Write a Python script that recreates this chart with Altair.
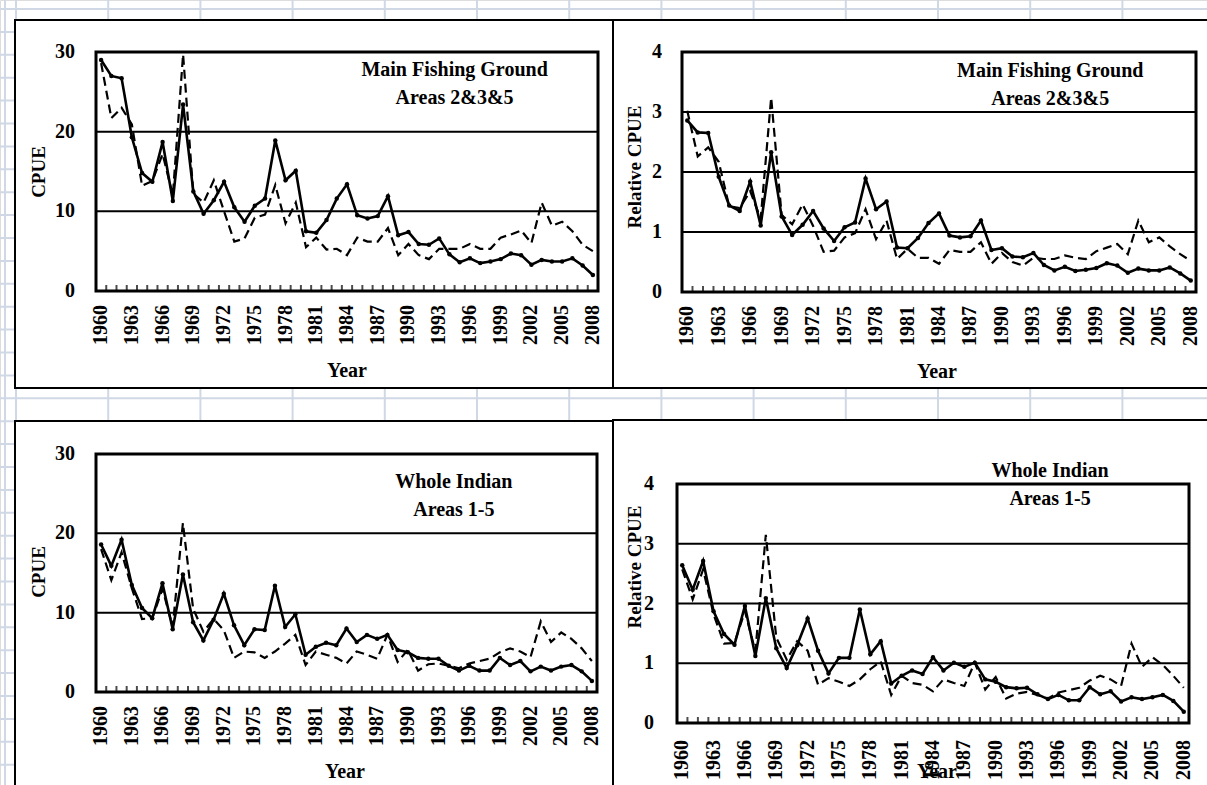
import altair as alt
import pandas as pd

# ---------------- data ----------------
years = list(range(1960, 2009))
year_labels = list(range(1960, 2009, 3))

main_cpue_solid = [29.0, 27.0, 26.7, 19.3, 14.8, 13.7, 18.7, 11.3, 23.4, 12.5,
                   9.7, 11.4, 13.7, 10.5, 8.7, 10.7, 11.6, 18.9, 13.9, 15.1,
                   7.5, 7.3, 8.9, 11.6, 13.4, 9.5, 9.1, 9.4, 11.9, 7.0,
                   7.4, 5.9, 5.8, 6.6, 4.6, 3.6, 4.1, 3.5, 3.7, 4.0,
                   4.7, 4.5, 3.3, 3.9, 3.7, 3.7, 4.1, 3.2, 2.0]
main_cpue_dashed = [28.6, 21.7, 23.0, 20.9, 13.2, 13.8, 17.2, 12.0, 29.7, 12.2,
                    11.1, 13.9, 10.0, 6.2, 6.6, 9.2, 9.6, 13.3, 8.5, 11.1,
                    5.5, 6.7, 5.2, 5.3, 4.5, 6.7, 6.2, 6.2, 7.9, 4.5,
                    5.9, 4.5, 4.0, 5.3, 5.3, 5.3, 5.9, 5.3, 5.3, 6.7,
                    7.1, 7.6, 6.0, 11.1, 8.2, 8.7, 7.5, 5.8, 5.0]
main_rel_solid = [2.86, 2.66, 2.65, 1.92, 1.44, 1.35, 1.84, 1.11, 2.33, 1.26,
                  0.95, 1.12, 1.35, 1.06, 0.85, 1.08, 1.16, 1.89, 1.38, 1.51,
                  0.74, 0.73, 0.90, 1.15, 1.31, 0.94, 0.91, 0.93, 1.19, 0.70,
                  0.73, 0.59, 0.58, 0.65, 0.45, 0.36, 0.42, 0.35, 0.37, 0.40,
                  0.48, 0.44, 0.32, 0.39, 0.36, 0.36, 0.41, 0.31, 0.19]
main_rel_dashed = [3.02, 2.26, 2.41, 2.17, 1.43, 1.40, 1.68, 1.22, 3.24, 1.28,
                   1.13, 1.46, 1.10, 0.67, 0.69, 0.91, 0.98, 1.38, 0.88, 1.19,
                   0.55, 0.72, 0.57, 0.57, 0.47, 0.70, 0.67, 0.67, 0.83, 0.47,
                   0.65, 0.50, 0.44, 0.57, 0.55, 0.55, 0.61, 0.57, 0.55, 0.68,
                   0.74, 0.80, 0.63, 1.19, 0.83, 0.91, 0.76, 0.63, 0.52]
whole_cpue_solid = [18.6, 15.9, 19.2, 13.5, 10.6, 9.3, 13.7, 7.9, 14.8, 8.8,
                    6.5, 9.1, 12.4, 8.4, 5.9, 7.9, 7.8, 13.4, 8.2, 9.8,
                    4.7, 5.7, 6.2, 5.9, 8.0, 6.3, 7.2, 6.7, 7.2, 5.3,
                    5.0, 4.3, 4.2, 4.2, 3.3, 2.7, 3.3, 2.7, 2.7, 4.3,
                    3.4, 3.9, 2.6, 3.2, 2.7, 3.2, 3.4, 2.6, 1.4]
whole_cpue_dashed = [18.0, 14.1, 17.6, 13.1, 9.2, 9.3, 13.0, 8.2, 21.3, 10.5,
                     7.6, 9.2, 7.8, 4.3, 5.1, 5.0, 4.3, 5.1, 6.1, 7.2,
                     3.4, 5.1, 4.7, 4.3, 3.6, 5.1, 4.7, 4.2, 7.2, 3.8,
                     5.3, 2.7, 3.5, 3.6, 3.3, 3.0, 3.6, 3.9, 4.2, 5.0,
                     5.5, 5.1, 4.4, 8.9, 6.3, 7.5, 6.7, 5.5, 3.9]
whole_rel_solid = [2.64, 2.23, 2.71, 1.87, 1.49, 1.31, 1.96, 1.12, 2.09, 1.25,
                   0.92, 1.30, 1.75, 1.21, 0.83, 1.09, 1.09, 1.90, 1.15, 1.37,
                   0.66, 0.79, 0.88, 0.82, 1.10, 0.88, 1.01, 0.94, 1.01, 0.73,
                   0.69, 0.60, 0.58, 0.59, 0.48, 0.40, 0.47, 0.38, 0.38, 0.60,
                   0.48, 0.53, 0.36, 0.43, 0.40, 0.43, 0.47, 0.37, 0.19]
whole_rel_dashed = [2.57, 2.07, 2.57, 1.82, 1.33, 1.34, 1.87, 1.20, 3.15, 1.43,
                    1.06, 1.37, 1.21, 0.64, 0.75, 0.69, 0.62, 0.73, 0.90, 1.03,
                    0.47, 0.79, 0.67, 0.64, 0.53, 0.73, 0.67, 0.62, 1.01, 0.56,
                    0.77, 0.41, 0.49, 0.52, 0.47, 0.41, 0.51, 0.55, 0.59, 0.71,
                    0.79, 0.73, 0.62, 1.33, 0.94, 1.10, 0.97, 0.79, 0.59]

main_note = ["Main Fishing Ground", "Areas 2&3&5"]
whole_note = ["Whole Indian", "Areas 1-5"]

# ---------------- layout / style ----------------
FONT = "Liberation Serif"
W, H = 1207, 785
GRID_COLOR = "#D0D8E6"
X_LO, X_HI = 1959.5, 2008.5


def panel(solid, dashed, ymax, ystep, xr, yr, ytitle, ytitle_xy, ylab_pad,
          xlab_pad, xtitle_xy, note, note_x, note_ys):
    df = pd.DataFrame({"year": years, "solid": solid, "dashed": dashed})
    xs = alt.Scale(domain=[X_LO, X_HI], range=xr, nice=False, zero=False)
    ys = alt.Scale(domain=[0, ymax], range=yr, nice=False, zero=False)
    gx = lambda f: alt.X(f, scale=xs, axis=None)
    gy = lambda f: alt.Y(f, scale=ys, axis=None)

    grid_df = pd.DataFrame({"y": list(range(ystep, ymax, ystep))})
    grid_df["x0"] = X_LO
    grid_df["x1"] = X_HI
    frame_df = pd.DataFrame({"x0": [X_LO], "x1": [X_HI], "y0": [0], "y1": [ymax]})
    tick_df = pd.DataFrame({"b": [y + 0.5 for y in years[:-1]]})
    tick_df["y0"] = 0
    xlab_df = pd.DataFrame({"year": year_labels})
    xlab_df["y0"] = 0
    xlab_df["t"] = xlab_df["year"].astype(str)
    ylab_df = pd.DataFrame({"v": list(range(0, ymax + 1, ystep))})
    ylab_df["x0"] = X_LO
    ylab_df["t"] = ylab_df["v"].astype(str)
    note_df = pd.DataFrame({"t": note, "x": [note_x] * len(note), "y": note_ys})

    grid = alt.Chart(grid_df).mark_rule(color="black", strokeWidth=2).encode(
        x=gx("x0:Q"), x2="x1:Q", y=gy("y:Q"))
    line_dash = alt.Chart(df).mark_line(color="black", strokeWidth=2.2,
                                        strokeDash=[9, 5]).encode(
        x=gx("year:Q"), y=gy("dashed:Q"))
    line_solid = alt.Chart(df).mark_line(color="black", strokeWidth=2.6).encode(
        x=gx("year:Q"), y=gy("solid:Q"))
    pts = alt.Chart(df).mark_circle(color="black", size=20, opacity=1).encode(
        x=gx("year:Q"), y=gy("solid:Q"))
    frame = alt.Chart(frame_df).mark_rect(fillOpacity=0, stroke="black",
                                          strokeWidth=3).encode(
        x=gx("x0:Q"), x2="x1:Q", y=gy("y0:Q"), y2="y1:Q")
    ticks = alt.Chart(tick_df).mark_tick(orient="vertical", size=6,
                                         thickness=2, yOffset=-3,
                                         color="black").encode(
        x=gx("b:Q"), y=gy("y0:Q"))
    xlabels = alt.Chart(xlab_df).mark_text(font=FONT, fontSize=20,
                                           fontWeight="bold", color="black",
                                           angle=270, align="right",
                                           baseline="middle",
                                           yOffset=xlab_pad).encode(
        x=gx("year:Q"), y=gy("y0:Q"), text="t:N")
    ylabels = alt.Chart(ylab_df).mark_text(font=FONT, fontSize=20,
                                           fontWeight="bold", color="black",
                                           align="right", baseline="middle",
                                           xOffset=-ylab_pad).encode(
        x=gx("x0:Q"), y=gy("v:Q"), text="t:N")
    notes = alt.Chart(note_df).mark_text(font=FONT, fontSize=20,
                                         fontWeight="bold", color="black",
                                         align="center",
                                         baseline="middle").encode(
        x=gx("x:Q"), y=gy("y:Q"), text="t:N")
    one = pd.DataFrame({"t": [ytitle]})
    ytitle_mark = alt.Chart(one).mark_text(font=FONT, fontSize=19,
                                           fontWeight="bold", color="black",
                                           angle=270, align="center",
                                           baseline="middle").encode(
        x=alt.value(ytitle_xy[0]), y=alt.value(ytitle_xy[1]), text="t:N")
    xtitle_mark = alt.Chart(pd.DataFrame({"t": ["Year"]})).mark_text(
        font=FONT, fontSize=20, fontWeight="bold", color="black",
        align="center", baseline="middle").encode(
        x=alt.value(xtitle_xy[0]), y=alt.value(xtitle_xy[1]), text="t:N")
    return alt.layer(grid, line_dash, line_solid, pts, frame, ticks,
                     xlabels, ylabels, notes, ytitle_mark, xtitle_mark)


# spreadsheet background grid (decoration)
vlines = pd.DataFrame({"px": [5] + [16 + 92.2 * k for k in range(14)]})
hlines = pd.DataFrame({"py": [9 + 22.9 * k for k in range(35)]})
one_row = pd.DataFrame({"k": [0]})

bg_v = alt.Chart(vlines).mark_rule(color=GRID_COLOR, strokeWidth=2).encode(
    x=alt.X("px:Q", scale=None), y=alt.value(0), y2=alt.value(H))
bg_h = alt.Chart(hlines).mark_rule(color=GRID_COLOR, strokeWidth=2).encode(
    y=alt.Y("py:Q", scale=None), x=alt.value(0), x2=alt.value(W))


def box(x0, x1, y0, y1):
    return alt.Chart(one_row).mark_rect(fill="white", stroke="black",
                                        strokeWidth=2).encode(
        x=alt.value(x0), x2=alt.value(x1), y=alt.value(y0), y2=alt.value(y1))


boxes = [box(15, 613, 20, 388), box(613, 1230, 20, 388),
         box(15, 613, 421, 800), box(613, 1230, 420, 800)]

p_tl = panel(main_cpue_solid, main_cpue_dashed, 30, 10, [96, 598], [291, 52],
             "CPUE", (39, 172), 21, 14, (347, 371), main_note, 1994.5,
             [27.7, 24.2])
p_tr = panel(main_rel_solid, main_rel_dashed, 4, 1, [682, 1196], [292, 52],
             "Relative CPUE", (635, 167), 20, 14, (937, 372), main_note,
             1994.6, [3.68, 3.22])
p_bl = panel(whole_cpue_solid, whole_cpue_dashed, 30, 10, [96, 597], [692, 454],
             "CPUE", (39, 572), 21, 14, (345, 772), whole_note, 1994.5,
             [26.5, 22.9])
p_br = panel(whole_rel_solid, whole_rel_dashed, 4, 1, [677, 1189], [723, 484],
             "Relative CPUE", (635, 567), 23, 17, (937, 772), whole_note,
             1995.2, [4.22, 3.75])

chart = alt.layer(bg_v, bg_h, *boxes, p_tl, p_tr, p_bl, p_br).resolve_scale(
    x="independent", y="independent").properties(
    width=W, height=H, padding=0,
    autosize=alt.AutoSizeParams(type="none"),
    background="white").configure_view(stroke=None).configure(font=FONT)

chart.save("out.html", embed_options={"renderer": "svg", "actions": False})
